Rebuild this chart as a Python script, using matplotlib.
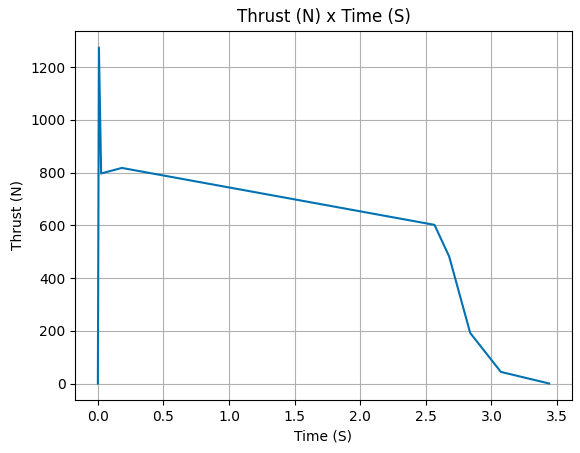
import matplotlib
matplotlib.use("Agg")
import matplotlib.pyplot as plt

time_s = [0.0, 0.008, 0.025, 0.183, 2.566, 2.678, 2.838, 3.072, 3.44]
thrust_n = [0, 1275, 797, 818, 602, 482, 192, 44, 0]

fig = plt.figure(figsize=(5.8, 4.53), dpi=100)
ax = fig.add_axes([75.3 / 580, (453 - 400.3) / 453, (571.7 - 75.3) / 580, (400.3 - 30.7) / 453])
ax.plot(time_s, thrust_n, color="#0072B2", linewidth=1.5)
ax.grid(True)
ax.set_title("Thrust (N) x Time (S)")
ax.set_xlabel("Time (S)")
ax.set_ylabel("Thrust (N)")
fig.savefig("out.png", dpi=100)
